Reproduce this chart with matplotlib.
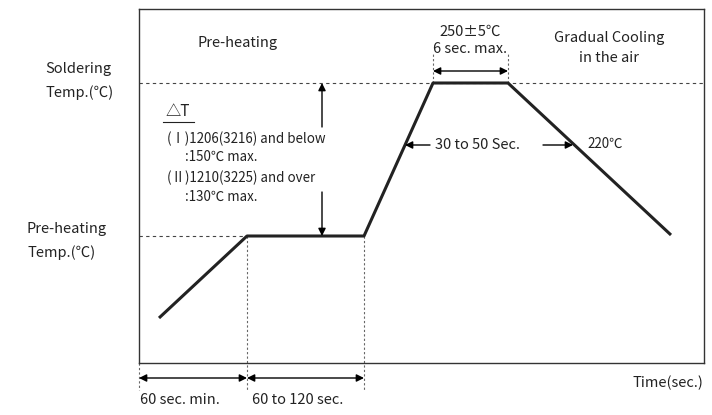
import matplotlib.pyplot as plt

plt.rcParams['font.family'] = ['Noto Sans CJK KR', 'DejaVu Sans']

# reflow profile (arbitrary time / temperature units as drawn)
prof_time = [20, 108, 225, 294, 369, 532]
prof_temp = [45, 127, 127, 280, 280, 128]

preheat_level = 127
solder_level = 280
x_max = 565
y_max = 354

fig = plt.figure(figsize=(7.12, 4.15), dpi=100)
ax = fig.add_axes([139 / 712, 52 / 415, 565 / 712, 354 / 415])
ax.set_xlim(0, x_max)
ax.set_ylim(0, y_max)
ax.set_xticks([])
ax.set_yticks([])
for s in ax.spines.values():
    s.set_color('#333333')
    s.set_linewidth(1.0)

# profile
ax.plot(prof_time, prof_temp, color='#222222', lw=2.2, solid_capstyle='butt', zorder=3)

# reference levels
ax.plot([0, prof_time[1]], [preheat_level, preheat_level], ls=(0, (3, 3)), color='#444444', lw=0.8)
ax.plot([0, x_max], [solder_level, solder_level], ls=(0, (3, 3)), color='#444444', lw=0.8)

# dotted verticals
dot = dict(ls=(0, (2, 2)), color='#666666', lw=0.8, clip_on=False)
ax.plot([0, 0], [0, -27], **dot)
ax.plot([prof_time[1]] * 2, [preheat_level, -27], **dot)
ax.plot([prof_time[2]] * 2, [preheat_level, -27], **dot)
ax.plot([prof_time[3]] * 2, [solder_level, solder_level + 30], **dot)
ax.plot([prof_time[4]] * 2, [solder_level, solder_level + 30], **dot)

arr = dict(arrowstyle='-|>', color='black', lw=1.0, mutation_scale=11, shrinkA=0, shrinkB=0)
darr = dict(arrowstyle='<|-|>', color='black', lw=1.0, mutation_scale=11, shrinkA=0, shrinkB=0)

def arrow(x0, y0, x1, y1, props):
    ax.annotate('', xy=(x1, y1), xytext=(x0, y0), arrowprops=props, annotation_clip=False)

# bottom time spans
arrow(0, -15, prof_time[1], -15, darr)
arrow(prof_time[1], -15, prof_time[2], -15, darr)
# peak span
arrow(prof_time[3], 292, prof_time[4], 292, darr)
# delta T arrows
arrow(183, 236, 183, solder_level, arr)
arrow(183, 171, 183, preheat_level, arr)
# 30 to 50 sec arrows
arrow(291, 218, 266, 218, arr)
arrow(404, 218, 434, 218, arr)

fs = 10.5
fs2 = 9.6
tc = '#222222'
ax.text(99, 320, 'Pre-heating', ha='center', va='center', fontsize=fs, color=tc)
ax.text(-94, 282, 'Soldering\nTemp.(℃)', ha='left', va='center', fontsize=fs, color=tc, linespacing=1.75, clip_on=False)
ax.text(-112, 122, 'Pre-heating\nTemp.(℃)', ha='left', va='center', fontsize=fs, color=tc, linespacing=1.75, clip_on=False)

ax.text(27, 251, '△T', ha='left', va='center', fontsize=fs + 0.5, color=tc)
ax.plot([24, 55], [241, 241], color=tc, lw=0.8)
ax.text(28, 224, '(Ⅰ)1206(3216) and below', ha='left', va='center', fontsize=fs2, color=tc)
ax.text(46, 206, ':150℃ max.', ha='left', va='center', fontsize=fs2, color=tc)
ax.text(28, 185, '(Ⅱ)1210(3225) and over', ha='left', va='center', fontsize=fs2, color=tc)
ax.text(46, 166, ':130℃ max.', ha='left', va='center', fontsize=fs2, color=tc)

ax.text(331, 331, '250±5℃', ha='center', va='center', fontsize=fs, color=tc)
ax.text(331, 314, '6 sec. max.', ha='center', va='center', fontsize=fs, color=tc)
ax.text(470, 315, 'Gradual Cooling\nin the air', ha='center', va='center', fontsize=fs, color=tc, linespacing=1.55)

ax.text(296, 218, '30 to 50 Sec.', ha='left', va='center', fontsize=fs, color=tc)
ax.text(448, 219, '220℃', ha='left', va='center', fontsize=fs2, color=tc)

ax.text(1, -37, '60 sec. min.', ha='left', va='center', fontsize=fs, color=tc, clip_on=False)
ax.text(113, -37, '60 to 120 sec.', ha='left', va='center', fontsize=fs, color=tc, clip_on=False)
ax.text(564, -20, 'Time(sec.)', ha='right', va='center', fontsize=fs, color=tc, clip_on=False)

fig.savefig('out.png', dpi=100)
